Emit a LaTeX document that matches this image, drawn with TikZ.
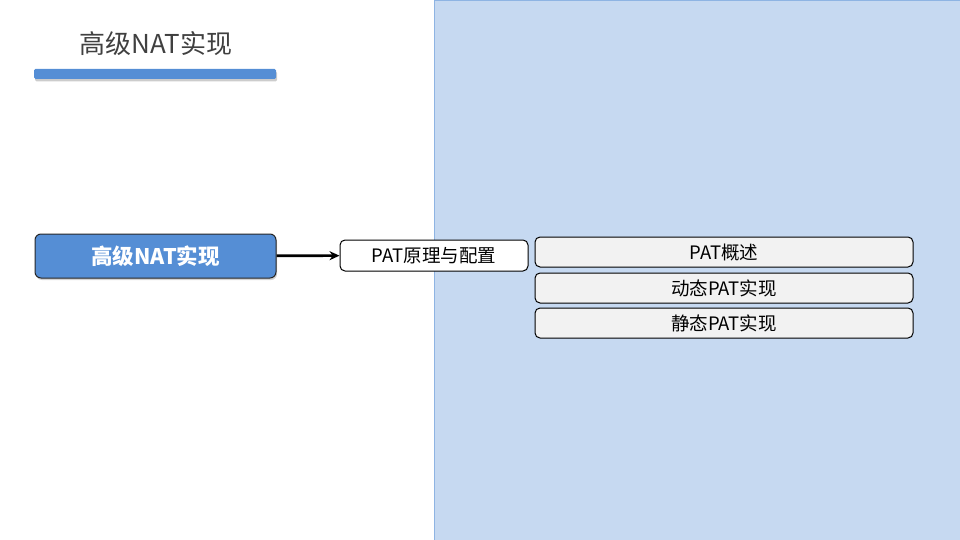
\documentclass[tikz,border=0pt]{standalone}
\usepackage{fontspec}
\setmainfont{Noto Sans CJK SC}
\usetikzlibrary{shadows,arrows.meta}
\definecolor{panelblue}{HTML}{C6D9F1}
\definecolor{panelline}{HTML}{8EB4E3}
\definecolor{nodeblue}{HTML}{558ED5}
\definecolor{titlegray}{HTML}{404040}
\definecolor{subgray}{HTML}{F2F2F2}
\begin{document}
\begin{tikzpicture}[
    x=1pt, y=-1pt,
    box/.style={draw, rounded corners=5pt, line width=1pt, inner sep=0pt, font=\fontsize{18.5}{20}\selectfont},
    topic/.style={box, fill=nodeblue, draw=black!85, text=white, minimum width=241pt, minimum height=44pt,
      rounded corners=6pt, font=\bfseries\fontsize{21.5}{23}\selectfont,
      drop shadow={opacity=0.35, shadow xshift=1pt, shadow yshift=-2pt}},
    sub/.style={box, fill=white, minimum width=188pt, minimum height=31pt},
    leaf/.style={box, fill=subgray, minimum width=378pt, minimum height=30pt},
  ]
    \useasboundingbox (0,0) rectangle (960,540);
    % right hand panel
    \draw[fill=panelblue, draw=panelline, line width=0.8pt] (434.5,0) rectangle (960,540);
    % title and bar
    \node[font=\fontsize{26}{28}\selectfont, text=titlegray] (title) at (156,44) {高级NAT实现};
    \fill[nodeblue, rounded corners=1.5pt, drop shadow={opacity=0.4, shadow xshift=1pt, shadow yshift=-2.5pt}]
      (34,69) rectangle (276,79);
    % main topic
    \node[topic] (nat) at (155.5,256) {高级NAT实现};
    \node[sub] (pat) at (434,255.5) {PAT原理与配置};
    \draw[-{Stealth[length=10pt,width=9pt]}, line width=2.6pt] (nat) -- (pat);
    % sub items
    \node[leaf] (intro) at (724,252) {PAT概述};
    \node[leaf] (dyn) at (724,288) {动态PAT实现};
    \node[leaf] (stat) at (724,323) {静态PAT实现};
  \end{tikzpicture}
\end{document}
